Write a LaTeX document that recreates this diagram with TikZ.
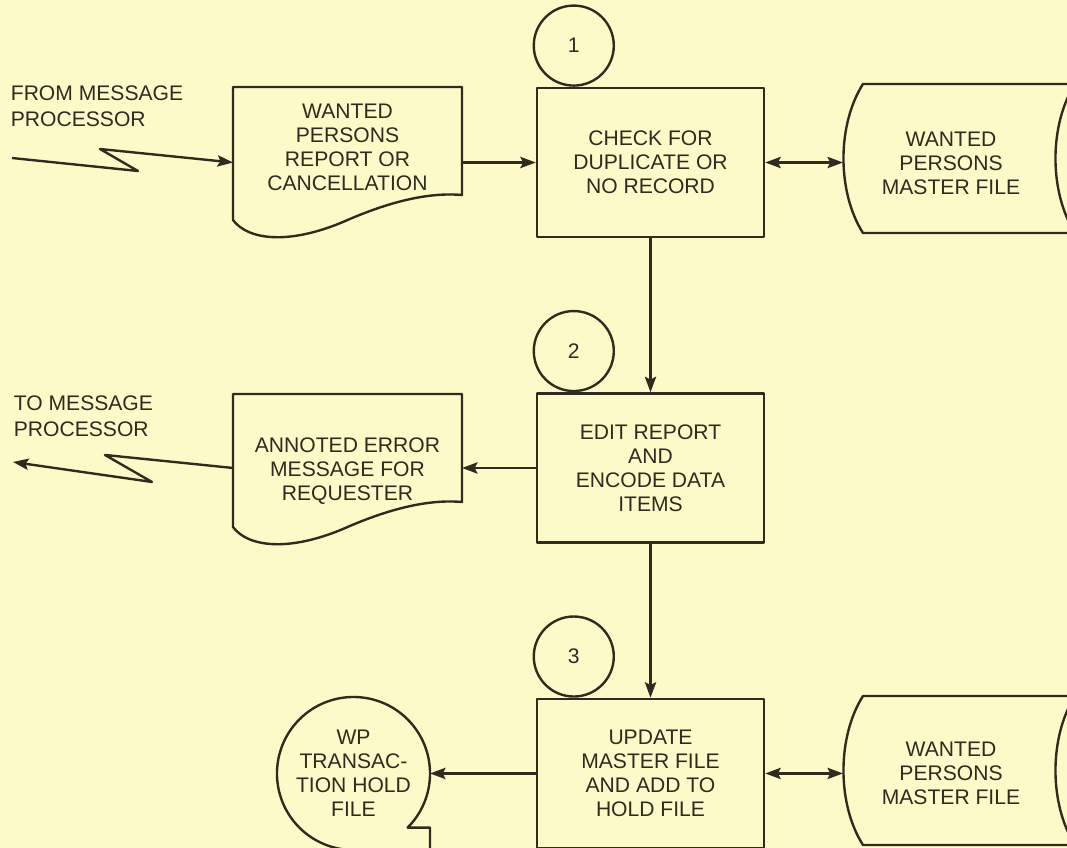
\documentclass[tikz,border=0pt]{standalone}
\usepackage{fontspec}
\setmainfont{Liberation Sans}
\usetikzlibrary{arrows.meta,positioning}

\definecolor{paper}{RGB}{252,250,200}
\definecolor{ink}{RGB}{46,44,30}

% document symbol round a text node; #2 = top edge measured from the text centre
\newcommand\docshape[2]{%
  \begin{scope}[shift={(#1.west)}, shift={(0,#2)}]
    \draw (110,135) .. controls (155,115) and (195,105) .. (229,108) -- (229,0) -- (0,0) -- (0,133)
      .. controls (15,153) and (55,158) .. (110,135) -- cycle;
  \end{scope}}

% drum (direct access file) round a text node, running off to the right
\newcommand\drumshape[2]{%
  \begin{scope}[shift={(#1.west)}, shift={(0,#2)}]
    \draw (240,0) -- (20,0) .. controls (-6,41) and (-6,108) .. (20,149) -- (240,149);
    \draw (232,0) .. controls (206,41) and (206,108) .. (232,149);
  \end{scope}}

\begin{document}
\begin{tikzpicture}[x=0.025cm, y=-0.025cm, color=ink, line width=1.7pt, line join=round,
    font=\fontsize{15}{17}\selectfont,
    proc/.style={draw, minimum width=5.675cm, minimum height=3.725cm, align=center, inner sep=0pt},
    num/.style={draw, circle, minimum size=2cm, inner sep=0pt},
    doc/.style={minimum width=5.725cm, inner sep=0pt, outer sep=0pt, align=center},
    drum/.style={minimum width=5.4cm, inner sep=0pt, outer sep=0pt, align=center},
    tape/.style={circle, minimum size=3.825cm, inner sep=0pt, outer sep=0pt, align=center},
    lbl/.style={align=left, anchor=north west, font=\fontsize{15}{18.5}\selectfont},
    arrow/.style={-{Stealth[length=11pt, width=8pt, inset=2pt]}},
    both/.style={{Stealth[length=11pt, width=8pt, inset=2pt]}-{Stealth[length=11pt, width=8pt, inset=2pt]}}
  ]
  \fill[paper] (0,0) rectangle (1067,848);
  \useasboundingbox (0,0) rectangle (1067,848);

  % processing steps
  \node[proc] (check) at (650.5,162.5) {CHECK FOR\\DUPLICATE OR\\NO RECORD};
  \node[proc, below=3.85cm of check] (edit) {EDIT REPORT\\AND\\ENCODE DATA\\ITEMS};
  \node[proc, below=3.85cm of edit] (update) {UPDATE\\MASTER FILE\\AND ADD TO\\HOLD FILE};
  \node[num, anchor=south] (n1) at ([xshift=0.95cm]check.north west) {1};
  \node[num, anchor=south] (n2) at ([xshift=0.95cm]edit.north west) {2};
  \node[num, anchor=south] (n3) at ([xshift=0.95cm]update.north west) {3};

  % documents
  \node[doc] (report) at (347.5,147.5) {WANTED\\PERSONS\\REPORT OR\\CANCELLATION};
  \docshape{report}{-60.5}
  \node[doc] (errmsg) at (347.5,471) {ANNOTED ERROR\\MESSAGE FOR\\REQUESTER};
  \docshape{errmsg}{-77}

  % master files
  \node[drum] (masterA) at (951,163) {WANTED\\PERSONS\\MASTER FILE};
  \drumshape{masterA}{-79}
  \node[drum] (masterB) at (951,773) {WANTED\\PERSONS\\MASTER FILE};
  \drumshape{masterB}{-77}

  % tape
  \node[tape] (holdfile) at (353.5,773.5) {WP\\TRANSAC-\\TION HOLD\\FILE};
  \draw (holdfile.-45) arc[start angle=-45, end angle=270, radius=1.9125cm]
    -- (holdfile.south -| holdfile.east) -- (holdfile.east |- holdfile.-45) -- cycle;

  % communication links
  \node[lbl] (fromlbl) at (5,80) {FROM MESSAGE\\PROCESSOR};
  \node[lbl] (tolbl) at (8,390) {TO MESSAGE\\PROCESSOR};
  \coordinate (fromsrc) at (12,158);
  \coordinate (tosink) at (13,462);
  \draw[arrow] (fromsrc) -- ++(126,13) -- ++(-38,-22) -- (report.west |- check.west);
  \draw[arrow] (errmsg.west |- edit.west) -- ++(-128,-13) -- ++(47,27) -- (tosink);

  \draw[arrow] (report.east |- check.west) -- (check.west);
  \draw[both] (check.east) -- (check.east -| masterA.west);
  \draw[arrow] (check) -- (edit);
  \draw[arrow] (edit.west) -- (edit.west -| errmsg.east);
  \draw[arrow] (edit) -- (update);
  \draw[arrow] (update.west) -- (update.west -| holdfile.east);
  \draw[both] (update.east) -- (update.east -| masterB.west);
\end{tikzpicture}
\end{document}
